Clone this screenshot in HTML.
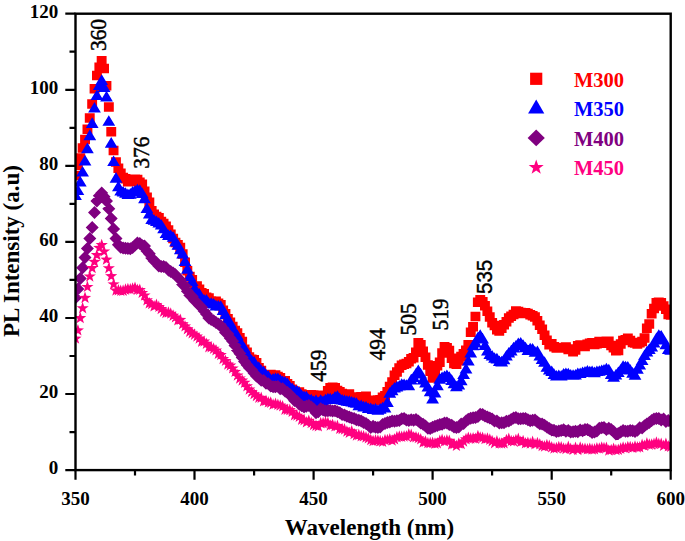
<!DOCTYPE html>
<html><head><meta charset="utf-8"><title>PL spectra</title><style>
html,body{margin:0;padding:0;background:#fff;width:685px;height:541px;overflow:hidden}
svg{display:block}
.tk{font-family:"Liberation Serif",serif;font-weight:bold;font-size:19px;fill:#000}
.ti{font-family:"Liberation Serif",serif;font-weight:bold;font-size:23px;fill:#000}
.pk{font-family:"Liberation Serif",serif;font-size:21.5px;fill:#000;stroke:#000;stroke-width:0.45px}
.pks{font-family:"Liberation Sans",sans-serif;font-size:20.5px;fill:#000;stroke:#000;stroke-width:0.35px}
.lg{font-family:"Liberation Serif",serif;font-weight:bold;font-size:20.5px}
</style></head><body>
<svg width="685" height="541" viewBox="0 0 685 541">
<defs><clipPath id="pc"><rect x="75.5" y="13.7" width="595.2" height="456.4"/></clipPath></defs>
<g clip-path="url(#pc)">
<path fill="#ff0000" d="M70.5 170.7h9.9v9.5h-9.9zM72.9 160.6h9.9v9.5h-9.9zM75.3 153.2h9.9v9.5h-9.9zM77.7 143.3h9.9v9.5h-9.9zM80.1 134.8h9.9v9.5h-9.9zM82.5 124.6h9.9v9.5h-9.9zM84.8 113.3h9.9v9.5h-9.9zM87.2 99.2h9.9v9.5h-9.9zM89.6 83.9h9.9v9.5h-9.9zM92 70.8h9.9v9.5h-9.9zM94.4 62.5h9.9v9.5h-9.9zM96.7 56.1h9.9v9.5h-9.9zM99.1 63.7h9.9v9.5h-9.9zM101.5 81h9.9v9.5h-9.9zM103.9 102.2h9.9v9.5h-9.9zM106.3 126.9h9.9v9.5h-9.9zM108.6 145.8h9.9v9.5h-9.9zM111 157.2h9.9v9.5h-9.9zM113.4 163.6h9.9v9.5h-9.9zM115.8 168.4h9.9v9.5h-9.9zM118.2 172.8h9.9v9.5h-9.9zM120.5 173.9h9.9v9.5h-9.9zM122.9 177h9.9v9.5h-9.9zM125.3 177h9.9v9.5h-9.9zM127.7 176.2h9.9v9.5h-9.9zM130.1 174.4h9.9v9.5h-9.9zM132.5 174.8h9.9v9.5h-9.9zM134.8 177.6h9.9v9.5h-9.9zM137.2 179.5h9.9v9.5h-9.9zM139.6 186.5h9.9v9.5h-9.9zM142 192.5h9.9v9.5h-9.9zM144.4 197.4h9.9v9.5h-9.9zM146.7 205.9h9.9v9.5h-9.9zM149.1 209.6h9.9v9.5h-9.9zM151.5 211.7h9.9v9.5h-9.9zM153.9 213h9.9v9.5h-9.9zM156.3 216.7h9.9v9.5h-9.9zM158.6 218.8h9.9v9.5h-9.9zM161 221.4h9.9v9.5h-9.9zM163.4 225.2h9.9v9.5h-9.9zM165.8 229.5h9.9v9.5h-9.9zM168.2 233.7h9.9v9.5h-9.9zM170.5 237.7h9.9v9.5h-9.9zM172.9 240.1h9.9v9.5h-9.9zM175.3 242.8h9.9v9.5h-9.9zM177.7 249.2h9.9v9.5h-9.9zM180.1 257.4h9.9v9.5h-9.9zM182.4 266h9.9v9.5h-9.9zM184.8 271.7h9.9v9.5h-9.9zM187.2 275.1h9.9v9.5h-9.9zM189.6 281.3h9.9v9.5h-9.9zM192 281.3h9.9v9.5h-9.9zM194.4 284.4h9.9v9.5h-9.9zM196.7 288.1h9.9v9.5h-9.9zM199.1 289h9.9v9.5h-9.9zM201.5 292.5h9.9v9.5h-9.9zM203.9 293.2h9.9v9.5h-9.9zM206.3 296.3h9.9v9.5h-9.9zM208.6 296.6h9.9v9.5h-9.9zM211 296.5h9.9v9.5h-9.9zM213.4 298.6h9.9v9.5h-9.9zM215.8 300h9.9v9.5h-9.9zM218.2 305.4h9.9v9.5h-9.9zM220.5 309.1h9.9v9.5h-9.9zM222.9 314.1h9.9v9.5h-9.9zM225.3 317.4h9.9v9.5h-9.9zM227.7 321.7h9.9v9.5h-9.9zM230.1 325.8h9.9v9.5h-9.9zM232.4 328.3h9.9v9.5h-9.9zM234.8 332.9h9.9v9.5h-9.9zM237.2 336.8h9.9v9.5h-9.9zM239.6 344.4h9.9v9.5h-9.9zM242 347.4h9.9v9.5h-9.9zM244.3 352.3h9.9v9.5h-9.9zM246.7 354.4h9.9v9.5h-9.9zM249.1 355h9.9v9.5h-9.9zM251.5 357.9h9.9v9.5h-9.9zM253.9 362.9h9.9v9.5h-9.9zM256.3 365.7h9.9v9.5h-9.9zM258.6 370.4h9.9v9.5h-9.9zM261 370.6h9.9v9.5h-9.9zM263.4 370.2h9.9v9.5h-9.9zM265.8 369.7h9.9v9.5h-9.9zM268.2 371.8h9.9v9.5h-9.9zM270.5 370.2h9.9v9.5h-9.9zM272.9 371.7h9.9v9.5h-9.9zM275.3 373h9.9v9.5h-9.9zM277.7 376.6h9.9v9.5h-9.9zM280.1 376.1h9.9v9.5h-9.9zM282.4 378.9h9.9v9.5h-9.9zM284.8 380.9h9.9v9.5h-9.9zM287.2 384.5h9.9v9.5h-9.9zM289.6 386.3h9.9v9.5h-9.9zM292 387.9h9.9v9.5h-9.9zM294.3 387.3h9.9v9.5h-9.9zM296.7 389.2h9.9v9.5h-9.9zM299.1 390h9.9v9.5h-9.9zM301.5 392h9.9v9.5h-9.9zM303.9 392.3h9.9v9.5h-9.9zM306.2 390h9.9v9.5h-9.9zM308.6 390.2h9.9v9.5h-9.9zM311 390.5h9.9v9.5h-9.9zM313.4 390.7h9.9v9.5h-9.9zM315.8 392.1h9.9v9.5h-9.9zM318.2 393.8h9.9v9.5h-9.9zM320.5 390.5h9.9v9.5h-9.9zM322.9 385.9h9.9v9.5h-9.9zM325.3 383h9.9v9.5h-9.9zM327.7 382.6h9.9v9.5h-9.9zM330.1 383h9.9v9.5h-9.9zM332.4 385.7h9.9v9.5h-9.9zM334.8 387.1h9.9v9.5h-9.9zM337.2 388.7h9.9v9.5h-9.9zM339.6 390.1h9.9v9.5h-9.9zM342 390.9h9.9v9.5h-9.9zM344.3 389.2h9.9v9.5h-9.9zM346.7 392.3h9.9v9.5h-9.9zM349.1 392.3h9.9v9.5h-9.9zM351.5 392.9h9.9v9.5h-9.9zM353.9 393h9.9v9.5h-9.9zM356.2 391.9h9.9v9.5h-9.9zM358.6 391.9h9.9v9.5h-9.9zM361 391.6h9.9v9.5h-9.9zM363.4 395.9h9.9v9.5h-9.9zM365.8 395.8h9.9v9.5h-9.9zM368.2 395.6h9.9v9.5h-9.9zM370.5 395.7h9.9v9.5h-9.9zM372.9 395.2h9.9v9.5h-9.9zM375.3 395.1h9.9v9.5h-9.9zM377.7 392.5h9.9v9.5h-9.9zM380.1 391.1h9.9v9.5h-9.9zM382.4 386.9h9.9v9.5h-9.9zM384.8 381.8h9.9v9.5h-9.9zM387.2 377.3h9.9v9.5h-9.9zM389.6 370.4h9.9v9.5h-9.9zM392 367.3h9.9v9.5h-9.9zM394.3 363.2h9.9v9.5h-9.9zM396.7 360.5h9.9v9.5h-9.9zM399.1 359.6h9.9v9.5h-9.9zM401.5 358.7h9.9v9.5h-9.9zM403.9 356.9h9.9v9.5h-9.9zM406.2 354.1h9.9v9.5h-9.9zM408.6 352.9h9.9v9.5h-9.9zM411 347.5h9.9v9.5h-9.9zM413.4 338.1h9.9v9.5h-9.9zM415.8 340.1h9.9v9.5h-9.9zM418.1 346.5h9.9v9.5h-9.9zM420.5 352.4h9.9v9.5h-9.9zM422.9 360.2h9.9v9.5h-9.9zM425.3 366.5h9.9v9.5h-9.9zM427.7 373.2h9.9v9.5h-9.9zM430.1 368.2h9.9v9.5h-9.9zM432.4 360.9h9.9v9.5h-9.9zM434.8 357.4h9.9v9.5h-9.9zM437.2 348.2h9.9v9.5h-9.9zM439.6 341.9h9.9v9.5h-9.9zM442 343.1h9.9v9.5h-9.9zM444.3 345.8h9.9v9.5h-9.9zM446.7 353.5h9.9v9.5h-9.9zM449.1 358.7h9.9v9.5h-9.9zM451.5 359.4h9.9v9.5h-9.9zM453.9 356.1h9.9v9.5h-9.9zM456.2 351.7h9.9v9.5h-9.9zM458.6 349.1h9.9v9.5h-9.9zM461 345.5h9.9v9.5h-9.9zM463.4 340.1h9.9v9.5h-9.9zM465.8 327.5h9.9v9.5h-9.9zM468.1 322h9.9v9.5h-9.9zM470.5 311.8h9.9v9.5h-9.9zM472.9 297.6h9.9v9.5h-9.9zM475.3 294.9h9.9v9.5h-9.9zM477.7 297h9.9v9.5h-9.9zM480 301.1h9.9v9.5h-9.9zM482.4 306.4h9.9v9.5h-9.9zM484.8 312.2h9.9v9.5h-9.9zM487.2 317.9h9.9v9.5h-9.9zM489.6 320.7h9.9v9.5h-9.9zM492 325h9.9v9.5h-9.9zM494.3 326.2h9.9v9.5h-9.9zM496.7 323.5h9.9v9.5h-9.9zM499.1 320h9.9v9.5h-9.9zM501.5 317h9.9v9.5h-9.9zM503.9 313.3h9.9v9.5h-9.9zM506.2 311.5h9.9v9.5h-9.9zM508.6 309.7h9.9v9.5h-9.9zM511 306.2h9.9v9.5h-9.9zM513.4 306.8h9.9v9.5h-9.9zM515.8 307.7h9.9v9.5h-9.9zM518.1 308.7h9.9v9.5h-9.9zM520.5 308.1h9.9v9.5h-9.9zM522.9 308.8h9.9v9.5h-9.9zM525.3 310.1h9.9v9.5h-9.9zM527.7 311.1h9.9v9.5h-9.9zM530 312.3h9.9v9.5h-9.9zM532.4 316h9.9v9.5h-9.9zM534.8 320.4h9.9v9.5h-9.9zM537.2 324.6h9.9v9.5h-9.9zM539.6 330.5h9.9v9.5h-9.9zM541.9 335.6h9.9v9.5h-9.9zM544.3 340h9.9v9.5h-9.9zM546.7 339h9.9v9.5h-9.9zM549.1 342h9.9v9.5h-9.9zM551.5 343.3h9.9v9.5h-9.9zM553.9 343.1h9.9v9.5h-9.9zM556.2 343.2h9.9v9.5h-9.9zM558.6 342.7h9.9v9.5h-9.9zM561 342.2h9.9v9.5h-9.9zM563.4 344.8h9.9v9.5h-9.9zM565.8 344.2h9.9v9.5h-9.9zM568.1 346.9h9.9v9.5h-9.9zM570.5 345.3h9.9v9.5h-9.9zM572.9 341h9.9v9.5h-9.9zM575.3 340.2h9.9v9.5h-9.9zM577.7 341.8h9.9v9.5h-9.9zM580 341.7h9.9v9.5h-9.9zM582.4 339.6h9.9v9.5h-9.9zM584.8 338.6h9.9v9.5h-9.9zM587.2 337.9h9.9v9.5h-9.9zM589.6 339.7h9.9v9.5h-9.9zM591.9 338.9h9.9v9.5h-9.9zM594.3 336.7h9.9v9.5h-9.9zM596.7 338.6h9.9v9.5h-9.9zM599.1 337.7h9.9v9.5h-9.9zM601.5 336.5h9.9v9.5h-9.9zM603.8 336.4h9.9v9.5h-9.9zM606.2 340.7h9.9v9.5h-9.9zM608.6 342.9h9.9v9.5h-9.9zM611 346.1h9.9v9.5h-9.9zM613.4 345.8h9.9v9.5h-9.9zM615.8 339.3h9.9v9.5h-9.9zM618.1 335.8h9.9v9.5h-9.9zM620.5 335.1h9.9v9.5h-9.9zM622.9 333.5h9.9v9.5h-9.9zM625.3 335.7h9.9v9.5h-9.9zM627.7 337.7h9.9v9.5h-9.9zM630 338.2h9.9v9.5h-9.9zM632.4 339.2h9.9v9.5h-9.9zM634.8 338h9.9v9.5h-9.9zM637.2 336.8h9.9v9.5h-9.9zM639.6 333.3h9.9v9.5h-9.9zM641.9 323.5h9.9v9.5h-9.9zM644.3 319.2h9.9v9.5h-9.9zM646.7 309.1h9.9v9.5h-9.9zM649.1 303.8h9.9v9.5h-9.9zM651.5 298h9.9v9.5h-9.9zM653.8 297.5h9.9v9.5h-9.9zM656.2 298.1h9.9v9.5h-9.9zM658.6 301.2h9.9v9.5h-9.9zM661 304.5h9.9v9.5h-9.9zM663.4 309.8h9.9v9.5h-9.9zM665.8 310.3h9.9v9.5h-9.9z"/>
<path fill="#0000ff" d="M75.5 189.5l6.4 10.6h-12.8zM77.9 184.5l6.4 10.6h-12.8zM80.3 176l6.4 10.6h-12.8zM82.6 166l6.4 10.6h-12.8zM85 154.8l6.4 10.6h-12.8zM87.4 142.6l6.4 10.6h-12.8zM89.8 129.6l6.4 10.6h-12.8zM92.2 117.3l6.4 10.6h-12.8zM94.5 101.9l6.4 10.6h-12.8zM96.9 89.4l6.4 10.6h-12.8zM99.3 79.5l6.4 10.6h-12.8zM101.7 74.3l6.4 10.6h-12.8zM104.1 81.5l6.4 10.6h-12.8zM106.5 90.8l6.4 10.6h-12.8zM108.8 115.2l6.4 10.6h-12.8zM111.2 137.1l6.4 10.6h-12.8zM113.6 155.4l6.4 10.6h-12.8zM116 172.1l6.4 10.6h-12.8zM118.4 180.7l6.4 10.6h-12.8zM120.7 185l6.4 10.6h-12.8zM123.1 186l6.4 10.6h-12.8zM125.5 187.2l6.4 10.6h-12.8zM127.9 188.5l6.4 10.6h-12.8zM130.3 188.1l6.4 10.6h-12.8zM132.6 185.9l6.4 10.6h-12.8zM135 185.1l6.4 10.6h-12.8zM137.4 183.8l6.4 10.6h-12.8zM139.8 184.3l6.4 10.6h-12.8zM142.2 187.5l6.4 10.6h-12.8zM144.5 192.6l6.4 10.6h-12.8zM146.9 202.5l6.4 10.6h-12.8zM149.3 208l6.4 10.6h-12.8zM151.7 213.4l6.4 10.6h-12.8zM154.1 214.2l6.4 10.6h-12.8zM156.4 215.5l6.4 10.6h-12.8zM158.8 216.9l6.4 10.6h-12.8zM161.2 219l6.4 10.6h-12.8zM163.6 222.7l6.4 10.6h-12.8zM166 227.4l6.4 10.6h-12.8zM168.4 229.3l6.4 10.6h-12.8zM170.7 229.4l6.4 10.6h-12.8zM173.1 231.2l6.4 10.6h-12.8zM175.5 236l6.4 10.6h-12.8zM177.9 239.1l6.4 10.6h-12.8zM180.3 243.7l6.4 10.6h-12.8zM182.6 247.8l6.4 10.6h-12.8zM185 255.3l6.4 10.6h-12.8zM187.4 263.2l6.4 10.6h-12.8zM189.8 270.5l6.4 10.6h-12.8zM192.2 275.5l6.4 10.6h-12.8zM194.5 282.6l6.4 10.6h-12.8zM196.9 285.9l6.4 10.6h-12.8zM199.3 287.9l6.4 10.6h-12.8zM201.7 292l6.4 10.6h-12.8zM204.1 294.1l6.4 10.6h-12.8zM206.4 294l6.4 10.6h-12.8zM208.8 297.3l6.4 10.6h-12.8zM211.2 297.2l6.4 10.6h-12.8zM213.6 298l6.4 10.6h-12.8zM216 299.8l6.4 10.6h-12.8zM218.3 300l6.4 10.6h-12.8zM220.7 300.2l6.4 10.6h-12.8zM223.1 304.5l6.4 10.6h-12.8zM225.5 308.7l6.4 10.6h-12.8zM227.9 313.1l6.4 10.6h-12.8zM230.3 317.1l6.4 10.6h-12.8zM232.6 322l6.4 10.6h-12.8zM235 327l6.4 10.6h-12.8zM237.4 329.6l6.4 10.6h-12.8zM239.8 335.1l6.4 10.6h-12.8zM242.2 339.2l6.4 10.6h-12.8zM244.5 342.5l6.4 10.6h-12.8zM246.9 347.5l6.4 10.6h-12.8zM249.3 352l6.4 10.6h-12.8zM251.7 354.6l6.4 10.6h-12.8zM254.1 355.9l6.4 10.6h-12.8zM256.4 360l6.4 10.6h-12.8zM258.8 361.3l6.4 10.6h-12.8zM261.2 364.6l6.4 10.6h-12.8zM263.6 365.7l6.4 10.6h-12.8zM266 368.8l6.4 10.6h-12.8zM268.3 370.2l6.4 10.6h-12.8zM270.7 373.5l6.4 10.6h-12.8zM273.1 373l6.4 10.6h-12.8zM275.5 372.4l6.4 10.6h-12.8zM277.9 372.5l6.4 10.6h-12.8zM280.2 373.9l6.4 10.6h-12.8zM282.6 375.6l6.4 10.6h-12.8zM285 376.1l6.4 10.6h-12.8zM287.4 377.6l6.4 10.6h-12.8zM289.8 381.1l6.4 10.6h-12.8zM292.2 382.4l6.4 10.6h-12.8zM294.5 384.8l6.4 10.6h-12.8zM296.9 385l6.4 10.6h-12.8zM299.3 386.5l6.4 10.6h-12.8zM301.7 389.6l6.4 10.6h-12.8zM304.1 390.6l6.4 10.6h-12.8zM306.4 390.7l6.4 10.6h-12.8zM308.8 393.4l6.4 10.6h-12.8zM311.2 393.7l6.4 10.6h-12.8zM313.6 395.4l6.4 10.6h-12.8zM316 394.5l6.4 10.6h-12.8zM318.3 396.7l6.4 10.6h-12.8zM320.7 394.3l6.4 10.6h-12.8zM323.1 395.4l6.4 10.6h-12.8zM325.5 393.7l6.4 10.6h-12.8zM327.9 392.8l6.4 10.6h-12.8zM330.2 392.8l6.4 10.6h-12.8zM332.6 393.4l6.4 10.6h-12.8zM335 391.1l6.4 10.6h-12.8zM337.4 390.2l6.4 10.6h-12.8zM339.8 392.8l6.4 10.6h-12.8zM342.1 393.9l6.4 10.6h-12.8zM344.5 394.4l6.4 10.6h-12.8zM346.9 395.1l6.4 10.6h-12.8zM349.3 395.3l6.4 10.6h-12.8zM351.7 396l6.4 10.6h-12.8zM354.1 396.6l6.4 10.6h-12.8zM356.4 397.2l6.4 10.6h-12.8zM358.8 399.7l6.4 10.6h-12.8zM361.2 399.6l6.4 10.6h-12.8zM363.6 400.8l6.4 10.6h-12.8zM366 400.9l6.4 10.6h-12.8zM368.3 402.4l6.4 10.6h-12.8zM370.7 402.5l6.4 10.6h-12.8zM373.1 403.4l6.4 10.6h-12.8zM375.5 402.9l6.4 10.6h-12.8zM377.9 404.2l6.4 10.6h-12.8zM380.2 403.1l6.4 10.6h-12.8zM382.6 401.7l6.4 10.6h-12.8zM385 402l6.4 10.6h-12.8zM387.4 396.3l6.4 10.6h-12.8zM389.8 387.1l6.4 10.6h-12.8zM392.1 384.6l6.4 10.6h-12.8zM394.5 381.9l6.4 10.6h-12.8zM396.9 380.8l6.4 10.6h-12.8zM399.3 379.9l6.4 10.6h-12.8zM401.7 378.3l6.4 10.6h-12.8zM404.1 378.4l6.4 10.6h-12.8zM406.4 379.2l6.4 10.6h-12.8zM408.8 379.6l6.4 10.6h-12.8zM411.2 373.8l6.4 10.6h-12.8zM413.6 371.4l6.4 10.6h-12.8zM416 367.8l6.4 10.6h-12.8zM418.3 364.6l6.4 10.6h-12.8zM420.7 368l6.4 10.6h-12.8zM423.1 373.8l6.4 10.6h-12.8zM425.5 377l6.4 10.6h-12.8zM427.9 381l6.4 10.6h-12.8zM430.2 385.6l6.4 10.6h-12.8zM432.6 392.8l6.4 10.6h-12.8zM435 386.8l6.4 10.6h-12.8zM437.4 379.6l6.4 10.6h-12.8zM439.8 373.1l6.4 10.6h-12.8zM442.1 371.5l6.4 10.6h-12.8zM444.5 370.5l6.4 10.6h-12.8zM446.9 369.4l6.4 10.6h-12.8zM449.3 371.3l6.4 10.6h-12.8zM451.7 374.3l6.4 10.6h-12.8zM454 377.7l6.4 10.6h-12.8zM456.4 380.7l6.4 10.6h-12.8zM458.8 378.8l6.4 10.6h-12.8zM461.2 374.6l6.4 10.6h-12.8zM463.6 368.5l6.4 10.6h-12.8zM466 362.9l6.4 10.6h-12.8zM468.3 354.8l6.4 10.6h-12.8zM470.7 346.8l6.4 10.6h-12.8zM473.1 339.7l6.4 10.6h-12.8zM475.5 336.8l6.4 10.6h-12.8zM477.9 331.7l6.4 10.6h-12.8zM480.2 329.3l6.4 10.6h-12.8zM482.6 332.8l6.4 10.6h-12.8zM485 339.3l6.4 10.6h-12.8zM487.4 344.9l6.4 10.6h-12.8zM489.8 348.4l6.4 10.6h-12.8zM492.1 349.9l6.4 10.6h-12.8zM494.5 352.2l6.4 10.6h-12.8zM496.9 352.8l6.4 10.6h-12.8zM499.3 355.5l6.4 10.6h-12.8zM501.7 355.8l6.4 10.6h-12.8zM504 353.7l6.4 10.6h-12.8zM506.4 349.9l6.4 10.6h-12.8zM508.8 347l6.4 10.6h-12.8zM511.2 344.8l6.4 10.6h-12.8zM513.6 341.8l6.4 10.6h-12.8zM515.9 340l6.4 10.6h-12.8zM518.3 337.4l6.4 10.6h-12.8zM520.7 337l6.4 10.6h-12.8zM523.1 339.2l6.4 10.6h-12.8zM525.5 341.7l6.4 10.6h-12.8zM527.9 344.4l6.4 10.6h-12.8zM530.2 342.7l6.4 10.6h-12.8zM532.6 343l6.4 10.6h-12.8zM535 346.1l6.4 10.6h-12.8zM537.4 345.6l6.4 10.6h-12.8zM539.8 350l6.4 10.6h-12.8zM542.1 353.5l6.4 10.6h-12.8zM544.5 356.2l6.4 10.6h-12.8zM546.9 361.2l6.4 10.6h-12.8zM549.3 363.9l6.4 10.6h-12.8zM551.7 365.5l6.4 10.6h-12.8zM554 368.3l6.4 10.6h-12.8zM556.4 370l6.4 10.6h-12.8zM558.8 369.5l6.4 10.6h-12.8zM561.2 369.9l6.4 10.6h-12.8zM563.6 368l6.4 10.6h-12.8zM565.9 367.5l6.4 10.6h-12.8zM568.3 367.8l6.4 10.6h-12.8zM570.7 369l6.4 10.6h-12.8zM573.1 369.2l6.4 10.6h-12.8zM575.5 369l6.4 10.6h-12.8zM577.8 367.5l6.4 10.6h-12.8zM580.2 367.5l6.4 10.6h-12.8zM582.6 366.5l6.4 10.6h-12.8zM585 366.1l6.4 10.6h-12.8zM587.4 365.1l6.4 10.6h-12.8zM589.8 365.7l6.4 10.6h-12.8zM592.1 365.4l6.4 10.6h-12.8zM594.5 366.6l6.4 10.6h-12.8zM596.9 365.5l6.4 10.6h-12.8zM599.3 365.2l6.4 10.6h-12.8zM601.7 364.5l6.4 10.6h-12.8zM604 363.9l6.4 10.6h-12.8zM606.4 362.8l6.4 10.6h-12.8zM608.8 363.7l6.4 10.6h-12.8zM611.2 368.4l6.4 10.6h-12.8zM613.6 371.2l6.4 10.6h-12.8zM615.9 369l6.4 10.6h-12.8zM618.3 366.4l6.4 10.6h-12.8zM620.7 363.7l6.4 10.6h-12.8zM623.1 360.2l6.4 10.6h-12.8zM625.5 360.7l6.4 10.6h-12.8zM627.8 361l6.4 10.6h-12.8zM630.2 363.9l6.4 10.6h-12.8zM632.6 367.1l6.4 10.6h-12.8zM635 369.1l6.4 10.6h-12.8zM637.4 363.1l6.4 10.6h-12.8zM639.7 358.9l6.4 10.6h-12.8zM642.1 354.5l6.4 10.6h-12.8zM644.5 349.4l6.4 10.6h-12.8zM646.9 345.9l6.4 10.6h-12.8zM649.3 343.3l6.4 10.6h-12.8zM651.7 340.8l6.4 10.6h-12.8zM654 337l6.4 10.6h-12.8zM656.4 332.6l6.4 10.6h-12.8zM658.8 329.2l6.4 10.6h-12.8zM661.2 329.9l6.4 10.6h-12.8zM663.6 334l6.4 10.6h-12.8zM665.9 338.7l6.4 10.6h-12.8zM668.3 343.5l6.4 10.6h-12.8zM670.7 344.2l6.4 10.6h-12.8z"/>
<path fill="#800080" d="M75.5 291.3l6.5 6.5l-6.5 6.5l-6.5 -6.5zM77.9 282.6l6.5 6.5l-6.5 6.5l-6.5 -6.5zM80.3 271.9l6.5 6.5l-6.5 6.5l-6.5 -6.5zM82.6 261.2l6.5 6.5l-6.5 6.5l-6.5 -6.5zM85 251l6.5 6.5l-6.5 6.5l-6.5 -6.5zM87.4 241.9l6.5 6.5l-6.5 6.5l-6.5 -6.5zM89.8 231.9l6.5 6.5l-6.5 6.5l-6.5 -6.5zM92.2 220.9l6.5 6.5l-6.5 6.5l-6.5 -6.5zM94.5 206.1l6.5 6.5l-6.5 6.5l-6.5 -6.5zM96.9 194.6l6.5 6.5l-6.5 6.5l-6.5 -6.5zM99.3 189.3l6.5 6.5l-6.5 6.5l-6.5 -6.5zM101.7 186.5l6.5 6.5l-6.5 6.5l-6.5 -6.5zM104.1 190.3l6.5 6.5l-6.5 6.5l-6.5 -6.5zM106.5 194.6l6.5 6.5l-6.5 6.5l-6.5 -6.5zM108.8 202.3l6.5 6.5l-6.5 6.5l-6.5 -6.5zM111.2 212.1l6.5 6.5l-6.5 6.5l-6.5 -6.5zM113.6 222.5l6.5 6.5l-6.5 6.5l-6.5 -6.5zM116 232.1l6.5 6.5l-6.5 6.5l-6.5 -6.5zM118.4 238.2l6.5 6.5l-6.5 6.5l-6.5 -6.5zM120.7 240.7l6.5 6.5l-6.5 6.5l-6.5 -6.5zM123.1 241.5l6.5 6.5l-6.5 6.5l-6.5 -6.5zM125.5 241.8l6.5 6.5l-6.5 6.5l-6.5 -6.5zM127.9 242l6.5 6.5l-6.5 6.5l-6.5 -6.5zM130.3 242.3l6.5 6.5l-6.5 6.5l-6.5 -6.5zM132.6 241.1l6.5 6.5l-6.5 6.5l-6.5 -6.5zM135 238.8l6.5 6.5l-6.5 6.5l-6.5 -6.5zM137.4 236.5l6.5 6.5l-6.5 6.5l-6.5 -6.5zM139.8 236.9l6.5 6.5l-6.5 6.5l-6.5 -6.5zM142.2 239l6.5 6.5l-6.5 6.5l-6.5 -6.5zM144.5 239.5l6.5 6.5l-6.5 6.5l-6.5 -6.5zM146.9 244.4l6.5 6.5l-6.5 6.5l-6.5 -6.5zM149.3 247.3l6.5 6.5l-6.5 6.5l-6.5 -6.5zM151.7 251.5l6.5 6.5l-6.5 6.5l-6.5 -6.5zM154.1 254.6l6.5 6.5l-6.5 6.5l-6.5 -6.5zM156.4 256.1l6.5 6.5l-6.5 6.5l-6.5 -6.5zM158.8 259.4l6.5 6.5l-6.5 6.5l-6.5 -6.5zM161.2 260l6.5 6.5l-6.5 6.5l-6.5 -6.5zM163.6 260l6.5 6.5l-6.5 6.5l-6.5 -6.5zM166 261.1l6.5 6.5l-6.5 6.5l-6.5 -6.5zM168.4 263.5l6.5 6.5l-6.5 6.5l-6.5 -6.5zM170.7 265l6.5 6.5l-6.5 6.5l-6.5 -6.5zM173.1 266.6l6.5 6.5l-6.5 6.5l-6.5 -6.5zM175.5 268.3l6.5 6.5l-6.5 6.5l-6.5 -6.5zM177.9 271.1l6.5 6.5l-6.5 6.5l-6.5 -6.5zM180.3 273.5l6.5 6.5l-6.5 6.5l-6.5 -6.5zM182.6 277.9l6.5 6.5l-6.5 6.5l-6.5 -6.5zM185 279.5l6.5 6.5l-6.5 6.5l-6.5 -6.5zM187.4 284.8l6.5 6.5l-6.5 6.5l-6.5 -6.5zM189.8 288.8l6.5 6.5l-6.5 6.5l-6.5 -6.5zM192.2 289.9l6.5 6.5l-6.5 6.5l-6.5 -6.5zM194.5 293.9l6.5 6.5l-6.5 6.5l-6.5 -6.5zM196.9 296.1l6.5 6.5l-6.5 6.5l-6.5 -6.5zM199.3 299.1l6.5 6.5l-6.5 6.5l-6.5 -6.5zM201.7 301l6.5 6.5l-6.5 6.5l-6.5 -6.5zM204.1 304.5l6.5 6.5l-6.5 6.5l-6.5 -6.5zM206.4 307.5l6.5 6.5l-6.5 6.5l-6.5 -6.5zM208.8 311.6l6.5 6.5l-6.5 6.5l-6.5 -6.5zM211.2 313l6.5 6.5l-6.5 6.5l-6.5 -6.5zM213.6 314.2l6.5 6.5l-6.5 6.5l-6.5 -6.5zM216 316.1l6.5 6.5l-6.5 6.5l-6.5 -6.5zM218.3 317.5l6.5 6.5l-6.5 6.5l-6.5 -6.5zM220.7 319.1l6.5 6.5l-6.5 6.5l-6.5 -6.5zM223.1 322.1l6.5 6.5l-6.5 6.5l-6.5 -6.5zM225.5 326l6.5 6.5l-6.5 6.5l-6.5 -6.5zM227.9 327.4l6.5 6.5l-6.5 6.5l-6.5 -6.5zM230.3 331.7l6.5 6.5l-6.5 6.5l-6.5 -6.5zM232.6 334.7l6.5 6.5l-6.5 6.5l-6.5 -6.5zM235 339.1l6.5 6.5l-6.5 6.5l-6.5 -6.5zM237.4 343.7l6.5 6.5l-6.5 6.5l-6.5 -6.5zM239.8 347.1l6.5 6.5l-6.5 6.5l-6.5 -6.5zM242.2 351l6.5 6.5l-6.5 6.5l-6.5 -6.5zM244.5 354.9l6.5 6.5l-6.5 6.5l-6.5 -6.5zM246.9 358.2l6.5 6.5l-6.5 6.5l-6.5 -6.5zM249.3 361.3l6.5 6.5l-6.5 6.5l-6.5 -6.5zM251.7 363.5l6.5 6.5l-6.5 6.5l-6.5 -6.5zM254.1 366.8l6.5 6.5l-6.5 6.5l-6.5 -6.5zM256.4 369.6l6.5 6.5l-6.5 6.5l-6.5 -6.5zM258.8 371.6l6.5 6.5l-6.5 6.5l-6.5 -6.5zM261.2 373.8l6.5 6.5l-6.5 6.5l-6.5 -6.5zM263.6 374.1l6.5 6.5l-6.5 6.5l-6.5 -6.5zM266 376.8l6.5 6.5l-6.5 6.5l-6.5 -6.5zM268.3 377.2l6.5 6.5l-6.5 6.5l-6.5 -6.5zM270.7 379.4l6.5 6.5l-6.5 6.5l-6.5 -6.5zM273.1 380.3l6.5 6.5l-6.5 6.5l-6.5 -6.5zM275.5 380.2l6.5 6.5l-6.5 6.5l-6.5 -6.5zM277.9 380.1l6.5 6.5l-6.5 6.5l-6.5 -6.5zM280.2 382.3l6.5 6.5l-6.5 6.5l-6.5 -6.5zM282.6 382.2l6.5 6.5l-6.5 6.5l-6.5 -6.5zM285 384.5l6.5 6.5l-6.5 6.5l-6.5 -6.5zM287.4 386.1l6.5 6.5l-6.5 6.5l-6.5 -6.5zM289.8 387.9l6.5 6.5l-6.5 6.5l-6.5 -6.5zM292.2 391.1l6.5 6.5l-6.5 6.5l-6.5 -6.5zM294.5 394l6.5 6.5l-6.5 6.5l-6.5 -6.5zM296.9 394.8l6.5 6.5l-6.5 6.5l-6.5 -6.5zM299.3 397.8l6.5 6.5l-6.5 6.5l-6.5 -6.5zM301.7 399.3l6.5 6.5l-6.5 6.5l-6.5 -6.5zM304.1 400.4l6.5 6.5l-6.5 6.5l-6.5 -6.5zM306.4 399.7l6.5 6.5l-6.5 6.5l-6.5 -6.5zM308.8 399.1l6.5 6.5l-6.5 6.5l-6.5 -6.5zM311.2 400.5l6.5 6.5l-6.5 6.5l-6.5 -6.5zM313.6 402.6l6.5 6.5l-6.5 6.5l-6.5 -6.5zM316 406.3l6.5 6.5l-6.5 6.5l-6.5 -6.5zM318.3 405.2l6.5 6.5l-6.5 6.5l-6.5 -6.5zM320.7 402.3l6.5 6.5l-6.5 6.5l-6.5 -6.5zM323.1 403.4l6.5 6.5l-6.5 6.5l-6.5 -6.5zM325.5 404.5l6.5 6.5l-6.5 6.5l-6.5 -6.5zM327.9 404.2l6.5 6.5l-6.5 6.5l-6.5 -6.5zM330.2 404.1l6.5 6.5l-6.5 6.5l-6.5 -6.5zM332.6 404.5l6.5 6.5l-6.5 6.5l-6.5 -6.5zM335 404.2l6.5 6.5l-6.5 6.5l-6.5 -6.5zM337.4 405.3l6.5 6.5l-6.5 6.5l-6.5 -6.5zM339.8 406.2l6.5 6.5l-6.5 6.5l-6.5 -6.5zM342.1 408l6.5 6.5l-6.5 6.5l-6.5 -6.5zM344.5 408.6l6.5 6.5l-6.5 6.5l-6.5 -6.5zM346.9 409.8l6.5 6.5l-6.5 6.5l-6.5 -6.5zM349.3 410.5l6.5 6.5l-6.5 6.5l-6.5 -6.5zM351.7 411.4l6.5 6.5l-6.5 6.5l-6.5 -6.5zM354.1 412.1l6.5 6.5l-6.5 6.5l-6.5 -6.5zM356.4 413.2l6.5 6.5l-6.5 6.5l-6.5 -6.5zM358.8 413.7l6.5 6.5l-6.5 6.5l-6.5 -6.5zM361.2 414.4l6.5 6.5l-6.5 6.5l-6.5 -6.5zM363.6 416.1l6.5 6.5l-6.5 6.5l-6.5 -6.5zM366 417.1l6.5 6.5l-6.5 6.5l-6.5 -6.5zM368.3 418.7l6.5 6.5l-6.5 6.5l-6.5 -6.5zM370.7 421l6.5 6.5l-6.5 6.5l-6.5 -6.5zM373.1 419.7l6.5 6.5l-6.5 6.5l-6.5 -6.5zM375.5 420.7l6.5 6.5l-6.5 6.5l-6.5 -6.5zM377.9 421.1l6.5 6.5l-6.5 6.5l-6.5 -6.5zM380.2 420.4l6.5 6.5l-6.5 6.5l-6.5 -6.5zM382.6 418l6.5 6.5l-6.5 6.5l-6.5 -6.5zM385 417l6.5 6.5l-6.5 6.5l-6.5 -6.5zM387.4 416.1l6.5 6.5l-6.5 6.5l-6.5 -6.5zM389.8 415.4l6.5 6.5l-6.5 6.5l-6.5 -6.5zM392.1 414.6l6.5 6.5l-6.5 6.5l-6.5 -6.5zM394.5 414.7l6.5 6.5l-6.5 6.5l-6.5 -6.5zM396.9 414.2l6.5 6.5l-6.5 6.5l-6.5 -6.5zM399.3 414.1l6.5 6.5l-6.5 6.5l-6.5 -6.5zM401.7 412.2l6.5 6.5l-6.5 6.5l-6.5 -6.5zM404.1 412.1l6.5 6.5l-6.5 6.5l-6.5 -6.5zM406.4 413.5l6.5 6.5l-6.5 6.5l-6.5 -6.5zM408.8 414l6.5 6.5l-6.5 6.5l-6.5 -6.5zM411.2 413.3l6.5 6.5l-6.5 6.5l-6.5 -6.5zM413.6 413.8l6.5 6.5l-6.5 6.5l-6.5 -6.5zM416 413.1l6.5 6.5l-6.5 6.5l-6.5 -6.5zM418.3 414.4l6.5 6.5l-6.5 6.5l-6.5 -6.5zM420.7 416.4l6.5 6.5l-6.5 6.5l-6.5 -6.5zM423.1 417.8l6.5 6.5l-6.5 6.5l-6.5 -6.5zM425.5 419.6l6.5 6.5l-6.5 6.5l-6.5 -6.5zM427.9 421.8l6.5 6.5l-6.5 6.5l-6.5 -6.5zM430.2 422.1l6.5 6.5l-6.5 6.5l-6.5 -6.5zM432.6 420.8l6.5 6.5l-6.5 6.5l-6.5 -6.5zM435 419.8l6.5 6.5l-6.5 6.5l-6.5 -6.5zM437.4 419.1l6.5 6.5l-6.5 6.5l-6.5 -6.5zM439.8 418l6.5 6.5l-6.5 6.5l-6.5 -6.5zM442.1 417.7l6.5 6.5l-6.5 6.5l-6.5 -6.5zM444.5 416.5l6.5 6.5l-6.5 6.5l-6.5 -6.5zM446.9 416.6l6.5 6.5l-6.5 6.5l-6.5 -6.5zM449.3 418.1l6.5 6.5l-6.5 6.5l-6.5 -6.5zM451.7 418.8l6.5 6.5l-6.5 6.5l-6.5 -6.5zM454 420.6l6.5 6.5l-6.5 6.5l-6.5 -6.5zM456.4 420.9l6.5 6.5l-6.5 6.5l-6.5 -6.5zM458.8 420.5l6.5 6.5l-6.5 6.5l-6.5 -6.5zM461.2 417.6l6.5 6.5l-6.5 6.5l-6.5 -6.5zM463.6 417.1l6.5 6.5l-6.5 6.5l-6.5 -6.5zM466 414.6l6.5 6.5l-6.5 6.5l-6.5 -6.5zM468.3 412.8l6.5 6.5l-6.5 6.5l-6.5 -6.5zM470.7 411.8l6.5 6.5l-6.5 6.5l-6.5 -6.5zM473.1 411.2l6.5 6.5l-6.5 6.5l-6.5 -6.5zM475.5 410.9l6.5 6.5l-6.5 6.5l-6.5 -6.5zM477.9 409.9l6.5 6.5l-6.5 6.5l-6.5 -6.5zM480.2 407.8l6.5 6.5l-6.5 6.5l-6.5 -6.5zM482.6 408.1l6.5 6.5l-6.5 6.5l-6.5 -6.5zM485 409.4l6.5 6.5l-6.5 6.5l-6.5 -6.5zM487.4 410.5l6.5 6.5l-6.5 6.5l-6.5 -6.5zM489.8 411.5l6.5 6.5l-6.5 6.5l-6.5 -6.5zM492.1 412.5l6.5 6.5l-6.5 6.5l-6.5 -6.5zM494.5 414.5l6.5 6.5l-6.5 6.5l-6.5 -6.5zM496.9 414.6l6.5 6.5l-6.5 6.5l-6.5 -6.5zM499.3 416.6l6.5 6.5l-6.5 6.5l-6.5 -6.5zM501.7 416.2l6.5 6.5l-6.5 6.5l-6.5 -6.5zM504 416.3l6.5 6.5l-6.5 6.5l-6.5 -6.5zM506.4 414.8l6.5 6.5l-6.5 6.5l-6.5 -6.5zM508.8 414.5l6.5 6.5l-6.5 6.5l-6.5 -6.5zM511.2 412.9l6.5 6.5l-6.5 6.5l-6.5 -6.5zM513.6 411.6l6.5 6.5l-6.5 6.5l-6.5 -6.5zM515.9 411.1l6.5 6.5l-6.5 6.5l-6.5 -6.5zM518.3 412.2l6.5 6.5l-6.5 6.5l-6.5 -6.5zM520.7 412.2l6.5 6.5l-6.5 6.5l-6.5 -6.5zM523.1 411.9l6.5 6.5l-6.5 6.5l-6.5 -6.5zM525.5 411.9l6.5 6.5l-6.5 6.5l-6.5 -6.5zM527.9 413.3l6.5 6.5l-6.5 6.5l-6.5 -6.5zM530.2 414.2l6.5 6.5l-6.5 6.5l-6.5 -6.5zM532.6 413.8l6.5 6.5l-6.5 6.5l-6.5 -6.5zM535 413.6l6.5 6.5l-6.5 6.5l-6.5 -6.5zM537.4 415.5l6.5 6.5l-6.5 6.5l-6.5 -6.5zM539.8 417.2l6.5 6.5l-6.5 6.5l-6.5 -6.5zM542.1 417.4l6.5 6.5l-6.5 6.5l-6.5 -6.5zM544.5 418.7l6.5 6.5l-6.5 6.5l-6.5 -6.5zM546.9 420.6l6.5 6.5l-6.5 6.5l-6.5 -6.5zM549.3 422l6.5 6.5l-6.5 6.5l-6.5 -6.5zM551.7 423.6l6.5 6.5l-6.5 6.5l-6.5 -6.5zM554 423.7l6.5 6.5l-6.5 6.5l-6.5 -6.5zM556.4 424.9l6.5 6.5l-6.5 6.5l-6.5 -6.5zM558.8 424.6l6.5 6.5l-6.5 6.5l-6.5 -6.5zM561.2 423.9l6.5 6.5l-6.5 6.5l-6.5 -6.5zM563.6 423.2l6.5 6.5l-6.5 6.5l-6.5 -6.5zM565.9 424.8l6.5 6.5l-6.5 6.5l-6.5 -6.5zM568.3 424l6.5 6.5l-6.5 6.5l-6.5 -6.5zM570.7 425.6l6.5 6.5l-6.5 6.5l-6.5 -6.5zM573.1 425.2l6.5 6.5l-6.5 6.5l-6.5 -6.5zM575.5 424.8l6.5 6.5l-6.5 6.5l-6.5 -6.5zM577.8 425.2l6.5 6.5l-6.5 6.5l-6.5 -6.5zM580.2 423.5l6.5 6.5l-6.5 6.5l-6.5 -6.5zM582.6 424.3l6.5 6.5l-6.5 6.5l-6.5 -6.5zM585 422.9l6.5 6.5l-6.5 6.5l-6.5 -6.5zM587.4 422.9l6.5 6.5l-6.5 6.5l-6.5 -6.5zM589.8 424.3l6.5 6.5l-6.5 6.5l-6.5 -6.5zM592.1 426l6.5 6.5l-6.5 6.5l-6.5 -6.5zM594.5 425.5l6.5 6.5l-6.5 6.5l-6.5 -6.5zM596.9 424.5l6.5 6.5l-6.5 6.5l-6.5 -6.5zM599.3 421.8l6.5 6.5l-6.5 6.5l-6.5 -6.5zM601.7 421.2l6.5 6.5l-6.5 6.5l-6.5 -6.5zM604 421l6.5 6.5l-6.5 6.5l-6.5 -6.5zM606.4 423l6.5 6.5l-6.5 6.5l-6.5 -6.5zM608.8 421.8l6.5 6.5l-6.5 6.5l-6.5 -6.5zM611.2 423.1l6.5 6.5l-6.5 6.5l-6.5 -6.5zM613.6 425l6.5 6.5l-6.5 6.5l-6.5 -6.5zM615.9 427.5l6.5 6.5l-6.5 6.5l-6.5 -6.5zM618.3 426.9l6.5 6.5l-6.5 6.5l-6.5 -6.5zM620.7 425.4l6.5 6.5l-6.5 6.5l-6.5 -6.5zM623.1 424l6.5 6.5l-6.5 6.5l-6.5 -6.5zM625.5 424.7l6.5 6.5l-6.5 6.5l-6.5 -6.5zM627.8 424.8l6.5 6.5l-6.5 6.5l-6.5 -6.5zM630.2 424l6.5 6.5l-6.5 6.5l-6.5 -6.5zM632.6 424.2l6.5 6.5l-6.5 6.5l-6.5 -6.5zM635 424.9l6.5 6.5l-6.5 6.5l-6.5 -6.5zM637.4 423.7l6.5 6.5l-6.5 6.5l-6.5 -6.5zM639.7 421.3l6.5 6.5l-6.5 6.5l-6.5 -6.5zM642.1 421.5l6.5 6.5l-6.5 6.5l-6.5 -6.5zM644.5 419.3l6.5 6.5l-6.5 6.5l-6.5 -6.5zM646.9 417.6l6.5 6.5l-6.5 6.5l-6.5 -6.5zM649.3 415.9l6.5 6.5l-6.5 6.5l-6.5 -6.5zM651.7 414.1l6.5 6.5l-6.5 6.5l-6.5 -6.5zM654 412.5l6.5 6.5l-6.5 6.5l-6.5 -6.5zM656.4 412.1l6.5 6.5l-6.5 6.5l-6.5 -6.5zM658.8 412l6.5 6.5l-6.5 6.5l-6.5 -6.5zM661.2 413.6l6.5 6.5l-6.5 6.5l-6.5 -6.5zM663.6 412.5l6.5 6.5l-6.5 6.5l-6.5 -6.5zM665.9 415.1l6.5 6.5l-6.5 6.5l-6.5 -6.5zM668.3 414.1l6.5 6.5l-6.5 6.5l-6.5 -6.5zM670.7 414.7l6.5 6.5l-6.5 6.5l-6.5 -6.5z"/>
<path fill="#ff0080" d="M75.5 332.3L77 336.6L81.6 336.7L77.9 339.4L79.3 343.8L75.5 341.2L71.7 343.8L73.1 339.4L69.4 336.7L74 336.6zM77.9 324L79.4 328.3L84 328.4L80.3 331.2L81.6 335.6L77.9 333L74.1 335.6L75.4 331.2L71.8 328.4L76.4 328.3zM80.3 311.7L81.8 316L86.3 316.1L82.7 318.9L84 323.3L80.3 320.7L76.5 323.3L77.8 318.9L74.2 316.1L78.8 316zM82.6 301.8L84.1 306.2L88.7 306.3L85.1 309L86.4 313.4L82.6 310.8L78.9 313.4L80.2 309L76.6 306.3L81.1 306.2zM85 291.5L86.5 295.8L91.1 295.9L87.5 298.7L88.8 303.1L85 300.5L81.3 303.1L82.6 298.7L78.9 295.9L83.5 295.8zM87.4 280.6L88.9 284.9L93.5 285L89.8 287.7L91.2 292.1L87.4 289.5L83.6 292.1L85 287.7L81.3 285L85.9 284.9zM89.8 270.2L91.3 274.5L95.9 274.6L92.2 277.3L93.5 281.7L89.8 279.1L86 281.7L87.4 277.3L83.7 274.6L88.3 274.5zM92.2 261.7L93.7 266L98.3 266.1L94.6 268.9L95.9 273.3L92.2 270.7L88.4 273.3L89.7 268.9L86.1 266.1L90.7 266zM94.5 255.5L96.1 259.8L100.6 259.9L97 262.7L98.3 267.1L94.5 264.4L90.8 267.1L92.1 262.7L88.5 259.9L93 259.8zM96.9 248.7L98.4 253.1L103 253.1L99.4 255.9L100.7 260.3L96.9 257.7L93.2 260.3L94.5 255.9L90.8 253.1L95.4 253.1zM99.3 241.5L100.8 245.8L105.4 245.9L101.7 248.7L103.1 253.1L99.3 250.5L95.5 253.1L96.9 248.7L93.2 245.9L97.8 245.8zM101.7 238.7L103.2 243L107.8 243.1L104.1 245.9L105.5 250.3L101.7 247.6L97.9 250.3L99.3 245.9L95.6 243.1L100.2 243zM104.1 245L105.6 249.4L110.2 249.5L106.5 252.2L107.8 256.6L104.1 254L100.3 256.6L101.6 252.2L98 249.5L102.6 249.4zM106.5 253.2L108 257.6L112.5 257.7L108.9 260.4L110.2 264.8L106.5 262.2L102.7 264.8L104 260.4L100.4 257.7L104.9 257.6zM108.8 261.9L110.3 266.2L114.9 266.3L111.3 269.1L112.6 273.5L108.8 270.8L105.1 273.5L106.4 269.1L102.7 266.3L107.3 266.2zM111.2 269.8L112.7 274.1L117.3 274.2L113.6 276.9L115 281.3L111.2 278.7L107.5 281.3L108.8 276.9L105.1 274.2L109.7 274.1zM113.6 277.9L115.1 282.3L119.7 282.4L116 285.1L117.4 289.5L113.6 286.9L109.8 289.5L111.2 285.1L107.5 282.4L112.1 282.3zM116 284.2L117.5 288.5L122.1 288.6L118.4 291.4L119.7 295.8L116 293.1L112.2 295.8L113.5 291.4L109.9 288.6L114.5 288.5zM118.4 284L119.9 288.3L124.4 288.4L120.8 291.2L122.1 295.5L118.4 292.9L114.6 295.5L115.9 291.2L112.3 288.4L116.8 288.3zM120.7 284.5L122.2 288.8L126.8 288.9L123.2 291.6L124.5 296L120.7 293.4L117 296L118.3 291.6L114.6 288.9L119.2 288.8zM123.1 284.3L124.6 288.7L129.2 288.8L125.6 291.5L126.9 295.9L123.1 293.3L119.4 295.9L120.7 291.5L117 288.8L121.6 288.7zM125.5 283.3L127 287.6L131.6 287.7L127.9 290.5L129.3 294.9L125.5 292.3L121.7 294.9L123.1 290.5L119.4 287.7L124 287.6zM127.9 282.8L129.4 287.1L134 287.2L130.3 290L131.6 294.3L127.9 291.7L124.1 294.3L125.4 290L121.8 287.2L126.4 287.1zM130.3 283L131.8 287.3L136.3 287.4L132.7 290.2L134 294.6L130.3 291.9L126.5 294.6L127.8 290.2L124.2 287.4L128.8 287.3zM132.6 282.2L134.1 286.5L138.7 286.6L135.1 289.4L136.4 293.8L132.6 291.1L128.9 293.8L130.2 289.4L126.6 286.6L131.1 286.5zM135 281.4L136.5 285.8L141.1 285.9L137.5 288.6L138.8 293L135 290.4L131.3 293L132.6 288.6L128.9 285.9L133.5 285.8zM137.4 283.6L138.9 287.9L143.5 288L139.8 290.8L141.2 295.1L137.4 292.5L133.6 295.1L135 290.8L131.3 288L135.9 287.9zM139.8 283.6L141.3 287.9L145.9 288L142.2 290.7L143.5 295.1L139.8 292.5L136 295.1L137.3 290.7L133.7 288L138.3 287.9zM142.2 286.6L143.7 290.9L148.2 291L144.6 293.8L145.9 298.1L142.2 295.5L138.4 298.1L139.7 293.8L136.1 291L140.7 290.9zM144.5 289.1L146 293.4L150.6 293.5L147 296.3L148.3 300.7L144.5 298L140.8 300.7L142.1 296.3L138.5 293.5L143 293.4zM146.9 294L148.4 298.3L153 298.4L149.4 301.2L150.7 305.6L146.9 302.9L143.2 305.6L144.5 301.2L140.8 298.4L145.4 298.3zM149.3 296.9L150.8 301.3L155.4 301.4L151.7 304.1L153.1 308.5L149.3 305.9L145.5 308.5L146.9 304.1L143.2 301.4L147.8 301.3zM151.7 297.8L153.2 302.1L157.8 302.2L154.1 304.9L155.4 309.3L151.7 306.7L147.9 309.3L149.3 304.9L145.6 302.2L150.2 302.1zM154.1 300L155.6 304.3L160.2 304.4L156.5 307.2L157.8 311.6L154.1 309L150.3 311.6L151.6 307.2L148 304.4L152.6 304.3zM156.4 298.6L158 302.9L162.5 303L158.9 305.8L160.2 310.2L156.4 307.6L152.7 310.2L154 305.8L150.4 303L154.9 302.9zM158.8 300.6L160.3 304.9L164.9 305L161.3 307.7L162.6 312.1L158.8 309.5L155.1 312.1L156.4 307.7L152.7 305L157.3 304.9zM161.2 302.6L162.7 306.9L167.3 307L163.6 309.8L165 314.2L161.2 311.5L157.4 314.2L158.8 309.8L155.1 307L159.7 306.9zM163.6 305.3L165.1 309.6L169.7 309.7L166 312.5L167.4 316.9L163.6 314.3L159.8 316.9L161.2 312.5L157.5 309.7L162.1 309.6zM166 306.6L167.5 310.9L172.1 311L168.4 313.8L169.7 318.2L166 315.6L162.2 318.2L163.5 313.8L159.9 311L164.5 310.9zM168.4 306.2L169.9 310.6L174.4 310.7L170.8 313.4L172.1 317.8L168.4 315.2L164.6 317.8L165.9 313.4L162.3 310.7L166.8 310.6zM170.7 307.2L172.2 311.6L176.8 311.7L173.2 314.4L174.5 318.8L170.7 316.2L167 318.8L168.3 314.4L164.6 311.7L169.2 311.6zM173.1 309.3L174.6 313.6L179.2 313.7L175.5 316.5L176.9 320.9L173.1 318.3L169.4 320.9L170.7 316.5L167 313.7L171.6 313.6zM175.5 311L177 315.4L181.6 315.5L177.9 318.2L179.3 322.6L175.5 320L171.7 322.6L173.1 318.2L169.4 315.5L174 315.4zM177.9 314L179.4 318.3L184 318.4L180.3 321.2L181.6 325.6L177.9 323L174.1 325.6L175.4 321.2L171.8 318.4L176.4 318.3zM180.3 313.5L181.8 317.8L186.3 317.9L182.7 320.7L184 325.1L180.3 322.5L176.5 325.1L177.8 320.7L174.2 317.9L178.8 317.8zM182.6 317.8L184.1 322.1L188.7 322.2L185.1 324.9L186.4 329.3L182.6 326.7L178.9 329.3L180.2 324.9L176.5 322.2L181.1 322.1zM185 319.9L186.5 324.3L191.1 324.4L187.5 327.1L188.8 331.5L185 328.9L181.3 331.5L182.6 327.1L178.9 324.4L183.5 324.3zM187.4 322.8L188.9 327.1L193.5 327.2L189.8 330L191.2 334.4L187.4 331.8L183.6 334.4L185 330L181.3 327.2L185.9 327.1zM189.8 325.3L191.3 329.6L195.9 329.7L192.2 332.5L193.5 336.9L189.8 334.2L186 336.9L187.3 332.5L183.7 329.7L188.3 329.6zM192.2 327L193.7 331.3L198.2 331.4L194.6 334.2L195.9 338.6L192.2 335.9L188.4 338.6L189.7 334.2L186.1 331.4L190.7 331.3zM194.5 328.3L196 332.6L200.6 332.7L197 335.5L198.3 339.9L194.5 337.2L190.8 339.9L192.1 335.5L188.5 332.7L193 332.6zM196.9 330.2L198.4 334.5L203 334.6L199.4 337.4L200.7 341.7L196.9 339.1L193.2 341.7L194.5 337.4L190.8 334.6L195.4 334.5zM199.3 332.2L200.8 336.5L205.4 336.6L201.7 339.3L203.1 343.7L199.3 341.1L195.5 343.7L196.9 339.3L193.2 336.6L197.8 336.5zM201.7 335.3L203.2 339.7L207.8 339.8L204.1 342.5L205.4 346.9L201.7 344.3L197.9 346.9L199.2 342.5L195.6 339.8L200.2 339.7zM204.1 335.2L205.6 339.5L210.1 339.6L206.5 342.4L207.8 346.8L204.1 344.1L200.3 346.8L201.6 342.4L198 339.6L202.6 339.5zM206.4 337.4L207.9 341.7L212.5 341.8L208.9 344.6L210.2 348.9L206.4 346.3L202.7 348.9L204 344.6L200.4 341.8L204.9 341.7zM208.8 340.8L210.3 345.1L214.9 345.2L211.3 348L212.6 352.4L208.8 349.8L205.1 352.4L206.4 348L202.7 345.2L207.3 345.1zM211.2 341.1L212.7 345.4L217.3 345.5L213.6 348.3L215 352.6L211.2 350L207.4 352.6L208.8 348.3L205.1 345.5L209.7 345.4zM213.6 342.3L215.1 346.7L219.7 346.8L216 349.5L217.3 353.9L213.6 351.3L209.8 353.9L211.2 349.5L207.5 346.8L212.1 346.7zM216 344.1L217.5 348.4L222.1 348.5L218.4 351.3L219.7 355.6L216 353L212.2 355.6L213.5 351.3L209.9 348.5L214.5 348.4zM218.3 347.5L219.9 351.8L224.4 351.9L220.8 354.7L222.1 359.1L218.3 356.4L214.6 359.1L215.9 354.7L212.3 351.9L216.8 351.8zM220.7 348.7L222.2 353L226.8 353.1L223.2 355.9L224.5 360.3L220.7 357.6L217 360.3L218.3 355.9L214.6 353.1L219.2 353zM223.1 352.6L224.6 356.9L229.2 357L225.5 359.8L226.9 364.2L223.1 361.6L219.3 364.2L220.7 359.8L217 357L221.6 356.9zM225.5 354.5L227 358.9L231.6 359L227.9 361.7L229.3 366.1L225.5 363.5L221.7 366.1L223.1 361.7L219.4 359L224 358.9zM227.9 358.1L229.4 362.4L234 362.5L230.3 365.3L231.6 369.7L227.9 367L224.1 369.7L225.4 365.3L221.8 362.5L226.4 362.4zM230.3 359.2L231.8 363.5L236.3 363.6L232.7 366.4L234 370.7L230.3 368.1L226.5 370.7L227.8 366.4L224.2 363.6L228.7 363.5zM232.6 362.1L234.1 366.4L238.7 366.5L235.1 369.2L236.4 373.6L232.6 371L228.9 373.6L230.2 369.2L226.5 366.5L231.1 366.4zM235 365.5L236.5 369.8L241.1 369.9L237.4 372.7L238.8 377.1L235 374.5L231.3 377.1L232.6 372.7L228.9 369.9L233.5 369.8zM237.4 369.1L238.9 373.4L243.5 373.5L239.8 376.3L241.2 380.7L237.4 378.1L233.6 380.7L235 376.3L231.3 373.5L235.9 373.4zM239.8 372.1L241.3 376.4L245.9 376.5L242.2 379.3L243.5 383.7L239.8 381.1L236 383.7L237.3 379.3L233.7 376.5L238.3 376.4zM242.2 374.1L243.7 378.4L248.2 378.5L244.6 381.3L245.9 385.7L242.2 383L238.4 385.7L239.7 381.3L236.1 378.5L240.7 378.4zM244.5 376.3L246 380.7L250.6 380.8L247 383.5L248.3 387.9L244.5 385.3L240.8 387.9L242.1 383.5L238.5 380.8L243 380.7zM246.9 379.8L248.4 384.2L253 384.3L249.4 387L250.7 391.4L246.9 388.8L243.2 391.4L244.5 387L240.8 384.3L245.4 384.2zM249.3 383.1L250.8 387.4L255.4 387.5L251.7 390.3L253.1 394.7L249.3 392L245.5 394.7L246.9 390.3L243.2 387.5L247.8 387.4zM251.7 385.6L253.2 390L257.8 390.1L254.1 392.8L255.4 397.2L251.7 394.6L247.9 397.2L249.2 392.8L245.6 390.1L250.2 390zM254.1 387.7L255.6 392.1L260.1 392.2L256.5 394.9L257.8 399.3L254.1 396.7L250.3 399.3L251.6 394.9L248 392.2L252.6 392.1zM256.4 389.6L257.9 394L262.5 394.1L258.9 396.8L260.2 401.2L256.4 398.6L252.7 401.2L254 396.8L250.4 394.1L254.9 394zM258.8 391.4L260.3 395.7L264.9 395.8L261.3 398.6L262.6 403L258.8 400.3L255.1 403L256.4 398.6L252.7 395.8L257.3 395.7zM261.2 391.5L262.7 395.9L267.3 395.9L263.6 398.7L265 403.1L261.2 400.5L257.4 403.1L258.8 398.7L255.1 395.9L259.7 395.9zM263.6 395L265.1 399.3L269.7 399.4L266 402.2L267.3 406.5L263.6 403.9L259.8 406.5L261.1 402.2L257.5 399.4L262.1 399.3zM266 394.4L267.5 398.7L272.1 398.8L268.4 401.6L269.7 406L266 403.4L262.2 406L263.5 401.6L259.9 398.8L264.5 398.7zM268.3 396L269.8 400.4L274.4 400.5L270.8 403.2L272.1 407.6L268.3 405L264.6 407.6L265.9 403.2L262.3 400.5L266.8 400.4zM270.7 396.3L272.2 400.6L276.8 400.7L273.2 403.5L274.5 407.9L270.7 405.3L267 407.9L268.3 403.5L264.6 400.7L269.2 400.6zM273.1 398.2L274.6 402.6L279.2 402.7L275.5 405.4L276.9 409.8L273.1 407.2L269.3 409.8L270.7 405.4L267 402.7L271.6 402.6zM275.5 397.5L277 401.8L281.6 401.9L277.9 404.7L279.2 409L275.5 406.4L271.7 409L273.1 404.7L269.4 401.9L274 401.8zM277.9 398.4L279.4 402.7L284 402.8L280.3 405.6L281.6 409.9L277.9 407.3L274.1 409.9L275.4 405.6L271.8 402.8L276.4 402.7zM280.2 399.2L281.8 403.5L286.3 403.6L282.7 406.4L284 410.7L280.2 408.1L276.5 410.7L277.8 406.4L274.2 403.6L278.7 403.5zM282.6 400L284.1 404.4L288.7 404.5L285.1 407.2L286.4 411.6L282.6 409L278.9 411.6L280.2 407.2L276.5 404.5L281.1 404.4zM285 403.4L286.5 407.7L291.1 407.8L287.4 410.6L288.8 414.9L285 412.3L281.2 414.9L282.6 410.6L278.9 407.8L283.5 407.7zM287.4 403.4L288.9 407.7L293.5 407.8L289.8 410.6L291.2 415L287.4 412.4L283.6 415L285 410.6L281.3 407.8L285.9 407.7zM289.8 403.6L291.3 407.9L295.9 408L292.2 410.8L293.5 415.2L289.8 412.6L286 415.2L287.3 410.8L283.7 408L288.3 407.9zM292.2 405.4L293.7 409.7L298.2 409.8L294.6 412.6L295.9 417L292.2 414.4L288.4 417L289.7 412.6L286.1 409.8L290.6 409.7zM294.5 408.9L296 413.2L300.6 413.3L297 416.1L298.3 420.4L294.5 417.8L290.8 420.4L292.1 416.1L288.4 413.3L293 413.2zM296.9 409.3L298.4 413.6L303 413.7L299.3 416.5L300.7 420.8L296.9 418.2L293.2 420.8L294.5 416.5L290.8 413.7L295.4 413.6zM299.3 410.3L300.8 414.7L305.4 414.8L301.7 417.5L303.1 421.9L299.3 419.3L295.5 421.9L296.9 417.5L293.2 414.8L297.8 414.7zM301.7 413.3L303.2 417.6L307.8 417.7L304.1 420.5L305.4 424.9L301.7 422.3L297.9 424.9L299.2 420.5L295.6 417.7L300.2 417.6zM304.1 413.8L305.6 418.1L310.1 418.2L306.5 421L307.8 425.4L304.1 422.8L300.3 425.4L301.6 421L298 418.2L302.6 418.1zM306.4 415.9L307.9 420.2L312.5 420.3L308.9 423.1L310.2 427.5L306.4 424.9L302.7 427.5L304 423.1L300.4 420.3L304.9 420.2zM308.8 414.4L310.3 418.8L314.9 418.8L311.3 421.6L312.6 426L308.8 423.4L305.1 426L306.4 421.6L302.7 418.8L307.3 418.8zM311.2 416.6L312.7 420.9L317.3 421L313.6 423.8L315 428.2L311.2 425.6L307.4 428.2L308.8 423.8L305.1 421L309.7 420.9zM313.6 418.6L315.1 422.9L319.7 423L316 425.8L317.3 430.2L313.6 427.6L309.8 430.2L311.1 425.8L307.5 423L312.1 422.9zM316 419.4L317.5 423.8L322 423.8L318.4 426.6L319.7 431L316 428.4L312.2 431L313.5 426.6L309.9 423.8L314.5 423.8zM318.3 420L319.8 424.3L324.4 424.4L320.8 427.2L322.1 431.6L318.3 428.9L314.6 431.6L315.9 427.2L312.3 424.4L316.8 424.3zM320.7 416.8L322.2 421.1L326.8 421.2L323.2 424L324.5 428.4L320.7 425.7L317 428.4L318.3 424L314.6 421.2L319.2 421.1zM323.1 416.8L324.6 421.1L329.2 421.2L325.5 424L326.9 428.4L323.1 425.7L319.3 428.4L320.7 424L317 421.2L321.6 421.1zM325.5 416L327 420.4L331.6 420.5L327.9 423.2L329.2 427.6L325.5 425L321.7 427.6L323 423.2L319.4 420.5L324 420.4zM327.9 416.5L329.4 420.9L334 421L330.3 423.7L331.6 428.1L327.9 425.5L324.1 428.1L325.4 423.7L321.8 421L326.4 420.9zM330.2 419.2L331.8 423.5L336.3 423.6L332.7 426.4L334 430.8L330.2 428.1L326.5 430.8L327.8 426.4L324.2 423.6L328.7 423.5zM332.6 418.5L334.1 422.8L338.7 422.9L335.1 425.7L336.4 430.1L332.6 427.4L328.9 430.1L330.2 425.7L326.5 422.9L331.1 422.8zM335 420L336.5 424.3L341.1 424.4L337.4 427.2L338.8 431.6L335 429L331.2 431.6L332.6 427.2L328.9 424.4L333.5 424.3zM337.4 419.6L338.9 423.9L343.5 424L339.8 426.8L341.1 431.2L337.4 428.5L333.6 431.2L335 426.8L331.3 424L335.9 423.9zM339.8 422.5L341.3 426.9L345.9 426.9L342.2 429.7L343.5 434.1L339.8 431.5L336 434.1L337.3 429.7L333.7 426.9L338.3 426.9zM342.1 422.7L343.7 427.1L348.2 427.2L344.6 429.9L345.9 434.3L342.1 431.7L338.4 434.3L339.7 429.9L336.1 427.2L340.6 427.1zM344.5 423.1L346 427.4L350.6 427.5L347 430.3L348.3 434.7L344.5 432L340.8 434.7L342.1 430.3L338.4 427.5L343 427.4zM346.9 425.2L348.4 429.6L353 429.7L349.3 432.4L350.7 436.8L346.9 434.2L343.1 436.8L344.5 432.4L340.8 429.7L345.4 429.6zM349.3 426.4L350.8 430.7L355.4 430.8L351.7 433.6L353.1 437.9L349.3 435.3L345.5 437.9L346.9 433.6L343.2 430.8L347.8 430.7zM351.7 425L353.2 429.3L357.8 429.4L354.1 432.2L355.4 436.5L351.7 433.9L347.9 436.5L349.2 432.2L345.6 429.4L350.2 429.3zM354.1 427.8L355.6 432.1L360.1 432.2L356.5 435L357.8 439.3L354.1 436.7L350.3 439.3L351.6 435L348 432.2L352.5 432.1zM356.4 429.2L357.9 433.5L362.5 433.6L358.9 436.3L360.2 440.7L356.4 438.1L352.7 440.7L354 436.3L350.3 433.6L354.9 433.5zM358.8 428.6L360.3 433L364.9 433L361.2 435.8L362.6 440.2L358.8 437.6L355.1 440.2L356.4 435.8L352.7 433L357.3 433zM361.2 429.8L362.7 434.1L367.3 434.2L363.6 437L365 441.4L361.2 438.8L357.4 441.4L358.8 437L355.1 434.2L359.7 434.1zM363.6 430.1L365.1 434.4L369.7 434.5L366 437.3L367.3 441.6L363.6 439L359.8 441.6L361.1 437.3L357.5 434.5L362.1 434.4zM366 431.1L367.5 435.4L372 435.5L368.4 438.3L369.7 442.7L366 440.1L362.2 442.7L363.5 438.3L359.9 435.5L364.5 435.4zM368.3 432L369.8 436.3L374.4 436.4L370.8 439.2L372.1 443.6L368.3 440.9L364.6 443.6L365.9 439.2L362.3 436.4L366.8 436.3zM370.7 433.7L372.2 438.1L376.8 438.2L373.2 440.9L374.5 445.3L370.7 442.7L367 445.3L368.3 440.9L364.6 438.2L369.2 438.1zM373.1 434.7L374.6 439L379.2 439.1L375.5 441.9L376.9 446.3L373.1 443.7L369.3 446.3L370.7 441.9L367 439.1L371.6 439zM375.5 434.1L377 438.5L381.6 438.6L377.9 441.3L379.2 445.7L375.5 443.1L371.7 445.7L373 441.3L369.4 438.6L374 438.5zM377.9 434.2L379.4 438.5L383.9 438.6L380.3 441.4L381.6 445.8L377.9 443.2L374.1 445.8L375.4 441.4L371.8 438.6L376.4 438.5zM380.2 434.8L381.7 439.2L386.3 439.2L382.7 442L384 446.4L380.2 443.8L376.5 446.4L377.8 442L374.2 439.2L378.7 439.2zM382.6 435.6L384.1 439.9L388.7 440L385.1 442.8L386.4 447.1L382.6 444.5L378.9 447.1L380.2 442.8L376.5 440L381.1 439.9zM385 433.8L386.5 438.1L391.1 438.2L387.4 441L388.8 445.3L385 442.7L381.2 445.3L382.6 441L378.9 438.2L383.5 438.1zM387.4 433.7L388.9 438L393.5 438.1L389.8 440.9L391.1 445.2L387.4 442.6L383.6 445.2L385 440.9L381.3 438.1L385.9 438zM389.8 432.9L391.3 437.2L395.9 437.3L392.2 440.1L393.5 444.4L389.8 441.8L386 444.4L387.3 440.1L383.7 437.3L388.3 437.2zM392.1 434.2L393.7 438.5L398.2 438.6L394.6 441.4L395.9 445.7L392.1 443.1L388.4 445.7L389.7 441.4L386.1 438.6L390.6 438.5zM394.5 432.9L396 437.3L400.6 437.4L397 440.1L398.3 444.5L394.5 441.9L390.8 444.5L392.1 440.1L388.4 437.4L393 437.3zM396.9 430.8L398.4 435.2L403 435.3L399.3 438L400.7 442.4L396.9 439.8L393.1 442.4L394.5 438L390.8 435.3L395.4 435.2zM399.3 430.2L400.8 434.6L405.4 434.7L401.7 437.4L403.1 441.8L399.3 439.2L395.5 441.8L396.9 437.4L393.2 434.7L397.8 434.6zM401.7 430.4L403.2 434.7L407.8 434.8L404.1 437.6L405.4 442L401.7 439.4L397.9 442L399.2 437.6L395.6 434.8L400.2 434.7zM404.1 430.1L405.6 434.5L410.1 434.6L406.5 437.3L407.8 441.7L404.1 439.1L400.3 441.7L401.6 437.3L398 434.6L402.5 434.5zM406.4 430L407.9 434.3L412.5 434.4L408.9 437.2L410.2 441.6L406.4 438.9L402.7 441.6L404 437.2L400.3 434.4L404.9 434.3zM408.8 428.1L410.3 432.4L414.9 432.5L411.2 435.3L412.6 439.7L408.8 437.1L405.1 439.7L406.4 435.3L402.7 432.5L407.3 432.4zM411.2 428.6L412.7 432.9L417.3 433L413.6 435.8L415 440.1L411.2 437.5L407.4 440.1L408.8 435.8L405.1 433L409.7 432.9zM413.6 430.9L415.1 435.2L419.7 435.3L416 438.1L417.3 442.4L413.6 439.8L409.8 442.4L411.1 438.1L407.5 435.3L412.1 435.2zM416 430.9L417.5 435.2L422 435.3L418.4 438.1L419.7 442.5L416 439.9L412.2 442.5L413.5 438.1L409.9 435.3L414.4 435.2zM418.3 431.7L419.8 436.1L424.4 436.2L420.8 438.9L422.1 443.3L418.3 440.7L414.6 443.3L415.9 438.9L412.2 436.2L416.8 436.1zM420.7 433L422.2 437.3L426.8 437.4L423.2 440.2L424.5 444.6L420.7 442L417 444.6L418.3 440.2L414.6 437.4L419.2 437.3zM423.1 436.1L424.6 440.4L429.2 440.5L425.5 443.3L426.9 447.7L423.1 445.1L419.3 447.7L420.7 443.3L417 440.5L421.6 440.4zM425.5 435.3L427 439.6L431.6 439.7L427.9 442.5L429.2 446.9L425.5 444.3L421.7 446.9L423 442.5L419.4 439.7L424 439.6zM427.9 436.8L429.4 441.1L433.9 441.2L430.3 444L431.6 448.3L427.9 445.7L424.1 448.3L425.4 444L421.8 441.2L426.4 441.1zM430.2 436.7L431.7 441.1L436.3 441.2L432.7 443.9L434 448.3L430.2 445.7L426.5 448.3L427.8 443.9L424.2 441.2L428.7 441.1zM432.6 436.4L434.1 440.8L438.7 440.9L435.1 443.6L436.4 448L432.6 445.4L428.9 448L430.2 443.6L426.5 440.9L431.1 440.8zM435 437.3L436.5 441.6L441.1 441.7L437.4 444.5L438.8 448.9L435 446.3L431.2 448.9L432.6 444.5L428.9 441.7L433.5 441.6zM437.4 437L438.9 441.3L443.5 441.4L439.8 444.2L441.1 448.6L437.4 445.9L433.6 448.6L434.9 444.2L431.3 441.4L435.9 441.3zM439.8 434.4L441.3 438.7L445.8 438.8L442.2 441.6L443.5 446L439.8 443.3L436 446L437.3 441.6L433.7 438.8L438.3 438.7zM442.1 433.6L443.6 437.9L448.2 438L444.6 440.8L445.9 445.2L442.1 442.5L438.4 445.2L439.7 440.8L436.1 438L440.6 437.9zM444.5 434.9L446 439.3L450.6 439.4L447 442.1L448.3 446.5L444.5 443.9L440.8 446.5L442.1 442.1L438.4 439.4L443 439.3zM446.9 434.1L448.4 438.4L453 438.5L449.3 441.3L450.7 445.7L446.9 443L443.1 445.7L444.5 441.3L440.8 438.5L445.4 438.4zM449.3 434.4L450.8 438.8L455.4 438.9L451.7 441.6L453 446L449.3 443.4L445.5 446L446.9 441.6L443.2 438.9L447.8 438.8zM451.7 438.1L453.2 442.4L457.8 442.5L454.1 445.3L455.4 449.7L451.7 447.1L447.9 449.7L449.2 445.3L445.6 442.5L450.2 442.4zM454 437.7L455.6 442L460.1 442.1L456.5 444.9L457.8 449.2L454 446.6L450.3 449.2L451.6 444.9L448 442.1L452.5 442zM456.4 439.5L457.9 443.8L462.5 443.9L458.9 446.7L460.2 451.1L456.4 448.5L452.7 451.1L454 446.7L450.3 443.9L454.9 443.8zM458.8 437.3L460.3 441.6L464.9 441.7L461.2 444.5L462.6 448.8L458.8 446.2L455 448.8L456.4 444.5L452.7 441.7L457.3 441.6zM461.2 437.7L462.7 442L467.3 442.1L463.6 444.9L465 449.3L461.2 446.7L457.4 449.3L458.8 444.9L455.1 442.1L459.7 442zM463.6 435.2L465.1 439.5L469.7 439.6L466 442.3L467.3 446.7L463.6 444.1L459.8 446.7L461.1 442.3L457.5 439.6L462.1 439.5zM466 432.8L467.5 437.2L472 437.3L468.4 440L469.7 444.4L466 441.8L462.2 444.4L463.5 440L459.9 437.3L464.4 437.2zM468.3 431.4L469.8 435.7L474.4 435.8L470.8 438.5L472.1 442.9L468.3 440.3L464.6 442.9L465.9 438.5L462.2 435.8L466.8 435.7zM470.7 432.3L472.2 436.6L476.8 436.7L473.1 439.4L474.5 443.8L470.7 441.2L467 443.8L468.3 439.4L464.6 436.7L469.2 436.6zM473.1 432L474.6 436.3L479.2 436.4L475.5 439.2L476.9 443.6L473.1 441L469.3 443.6L470.7 439.2L467 436.4L471.6 436.3zM475.5 432.5L477 436.8L481.6 436.9L477.9 439.7L479.2 444.1L475.5 441.5L471.7 444.1L473 439.7L469.4 436.9L474 436.8zM477.9 429.7L479.4 434.1L483.9 434.2L480.3 436.9L481.6 441.3L477.9 438.7L474.1 441.3L475.4 436.9L471.8 434.2L476.4 434.1zM480.2 431.2L481.7 435.5L486.3 435.6L482.7 438.4L484 442.7L480.2 440.1L476.5 442.7L477.8 438.4L474.1 435.6L478.7 435.5zM482.6 431.4L484.1 435.7L488.7 435.8L485.1 438.6L486.4 442.9L482.6 440.3L478.9 442.9L480.2 438.6L476.5 435.8L481.1 435.7zM485 432.7L486.5 437.1L491.1 437.1L487.4 439.9L488.8 444.3L485 441.7L481.2 444.3L482.6 439.9L478.9 437.1L483.5 437.1zM487.4 432.3L488.9 436.6L493.5 436.7L489.8 439.5L491.1 443.8L487.4 441.2L483.6 443.8L484.9 439.5L481.3 436.7L485.9 436.6zM489.8 433.3L491.3 437.6L495.8 437.7L492.2 440.5L493.5 444.9L489.8 442.3L486 444.9L487.3 440.5L483.7 437.7L488.3 437.6zM492.1 434.8L493.6 439.1L498.2 439.2L494.6 442L495.9 446.4L492.1 443.8L488.4 446.4L489.7 442L486.1 439.2L490.6 439.1zM494.5 436.8L496 441.2L500.6 441.2L497 444L498.3 448.4L494.5 445.8L490.8 448.4L492.1 444L488.4 441.2L493 441.2zM496.9 435.1L498.4 439.4L503 439.5L499.3 442.3L500.7 446.7L496.9 444L493.1 446.7L494.5 442.3L490.8 439.5L495.4 439.4zM499.3 436.9L500.8 441.2L505.4 441.3L501.7 444.1L503 448.5L499.3 445.9L495.5 448.5L496.8 444.1L493.2 441.3L497.8 441.2zM501.7 437.2L503.2 441.5L507.7 441.6L504.1 444.4L505.4 448.8L501.7 446.2L497.9 448.8L499.2 444.4L495.6 441.6L500.2 441.5zM504 436.9L505.5 441.3L510.1 441.3L506.5 444.1L507.8 448.5L504 445.9L500.3 448.5L501.6 444.1L498 441.3L502.5 441.3zM506.4 433.8L507.9 438.1L512.5 438.2L508.9 441L510.2 445.3L506.4 442.7L502.7 445.3L504 441L500.3 438.2L504.9 438.1zM508.8 432.6L510.3 437L514.9 437.1L511.2 439.8L512.6 444.2L508.8 441.6L505 444.2L506.4 439.8L502.7 437.1L507.3 437zM511.2 434.7L512.7 439.1L517.3 439.2L513.6 441.9L514.9 446.3L511.2 443.7L507.4 446.3L508.8 441.9L505.1 439.2L509.7 439.1zM513.6 435L515.1 439.4L519.7 439.4L516 442.2L517.3 446.6L513.6 444L509.8 446.6L511.1 442.2L507.5 439.4L512.1 439.4zM515.9 433.7L517.5 438L522 438.1L518.4 440.9L519.7 445.3L515.9 442.7L512.2 445.3L513.5 440.9L509.9 438.1L514.4 438zM518.3 432.6L519.8 436.9L524.4 437L520.8 439.8L522.1 444.1L518.3 441.5L514.6 444.1L515.9 439.8L512.2 437L516.8 436.9zM520.7 435.5L522.2 439.9L526.8 440L523.1 442.7L524.5 447.1L520.7 444.5L516.9 447.1L518.3 442.7L514.6 440L519.2 439.9zM523.1 434.7L524.6 439.1L529.2 439.1L525.5 441.9L526.9 446.3L523.1 443.7L519.3 446.3L520.7 441.9L517 439.1L521.6 439.1zM525.5 437L527 441.3L531.6 441.4L527.9 444.2L529.2 448.5L525.5 445.9L521.7 448.5L523 444.2L519.4 441.4L524 441.3zM527.9 436.4L529.4 440.7L533.9 440.8L530.3 443.5L531.6 447.9L527.9 445.3L524.1 447.9L525.4 443.5L521.8 440.8L526.3 440.7zM530.2 437.2L531.7 441.5L536.3 441.6L532.7 444.4L534 448.8L530.2 446.2L526.5 448.8L527.8 444.4L524.1 441.6L528.7 441.5zM532.6 435.6L534.1 439.9L538.7 440L535 442.8L536.4 447.2L532.6 444.5L528.9 447.2L530.2 442.8L526.5 440L531.1 439.9zM535 437.8L536.5 442.2L541.1 442.2L537.4 445L538.8 449.4L535 446.8L531.2 449.4L532.6 445L528.9 442.2L533.5 442.2zM537.4 436.7L538.9 441L543.5 441.1L539.8 443.9L541.1 448.3L537.4 445.7L533.6 448.3L534.9 443.9L531.3 441.1L535.9 441zM539.8 437.9L541.3 442.2L545.8 442.3L542.2 445.1L543.5 449.4L539.8 446.8L536 449.4L537.3 445.1L533.7 442.3L538.3 442.2zM542.1 439.7L543.6 444L548.2 444.1L544.6 446.9L545.9 451.3L542.1 448.6L538.4 451.3L539.7 446.9L536.1 444.1L540.6 444zM544.5 440.1L546 444.4L550.6 444.5L547 447.3L548.3 451.7L544.5 449.1L540.8 451.7L542.1 447.3L538.4 444.5L543 444.4zM546.9 438.8L548.4 443.2L553 443.3L549.3 446L550.7 450.4L546.9 447.8L543.1 450.4L544.5 446L540.8 443.3L545.4 443.2zM549.3 439.6L550.8 444L555.4 444.1L551.7 446.8L553 451.2L549.3 448.6L545.5 451.2L546.8 446.8L543.2 444.1L547.8 444zM551.7 441L553.2 445.3L557.7 445.4L554.1 448.2L555.4 452.5L551.7 449.9L547.9 452.5L549.2 448.2L545.6 445.4L550.2 445.3zM554 442.1L555.5 446.4L560.1 446.5L556.5 449.3L557.8 453.7L554 451.1L550.3 453.7L551.6 449.3L548 446.5L552.5 446.4zM556.4 441.7L557.9 446L562.5 446.1L558.9 448.9L560.2 453.3L556.4 450.6L552.7 453.3L554 448.9L550.3 446.1L554.9 446zM558.8 440.7L560.3 445L564.9 445.1L561.2 447.9L562.6 452.3L558.8 449.6L555 452.3L556.4 447.9L552.7 445.1L557.3 445zM561.2 440.9L562.7 445.2L567.3 445.3L563.6 448.1L564.9 452.5L561.2 449.8L557.4 452.5L558.7 448.1L555.1 445.3L559.7 445.2zM563.6 442.2L565.1 446.5L569.7 446.6L566 449.4L567.3 453.7L563.6 451.1L559.8 453.7L561.1 449.4L557.5 446.6L562.1 446.5zM565.9 442.8L567.4 447.1L572 447.2L568.4 449.9L569.7 454.3L565.9 451.7L562.2 454.3L563.5 449.9L559.9 447.2L564.4 447.1zM568.3 440.6L569.8 444.9L574.4 445L570.8 447.8L572.1 452.1L568.3 449.5L564.6 452.1L565.9 447.8L562.2 445L566.8 444.9zM570.7 442.5L572.2 446.9L576.8 447L573.1 449.7L574.5 454.1L570.7 451.5L566.9 454.1L568.3 449.7L564.6 447L569.2 446.9zM573.1 443.6L574.6 447.9L579.2 448L575.5 450.8L576.8 455.1L573.1 452.5L569.3 455.1L570.7 450.8L567 448L571.6 447.9zM575.5 441.4L577 445.7L581.6 445.8L577.9 448.6L579.2 453L575.5 450.3L571.7 453L573 448.6L569.4 445.8L574 445.7zM577.8 443.6L579.4 447.9L583.9 448L580.3 450.8L581.6 455.2L577.8 452.6L574.1 455.2L575.4 450.8L571.8 448L576.3 447.9zM580.2 441.3L581.7 445.6L586.3 445.7L582.7 448.4L584 452.8L580.2 450.2L576.5 452.8L577.8 448.4L574.1 445.7L578.7 445.6zM582.6 442.6L584.1 446.9L588.7 447L585 449.8L586.4 454.2L582.6 451.6L578.8 454.2L580.2 449.8L576.5 447L581.1 446.9zM585 442.4L586.5 446.7L591.1 446.8L587.4 449.6L588.8 453.9L585 451.3L581.2 453.9L582.6 449.6L578.9 446.8L583.5 446.7zM587.4 443L588.9 447.3L593.5 447.4L589.8 450.2L591.1 454.6L587.4 452L583.6 454.6L584.9 450.2L581.3 447.4L585.9 447.3zM589.8 442.5L591.3 446.8L595.8 446.9L592.2 449.7L593.5 454L589.8 451.4L586 454L587.3 449.7L583.7 446.9L588.2 446.8zM592.1 443.1L593.6 447.4L598.2 447.5L594.6 450.3L595.9 454.7L592.1 452.1L588.4 454.7L589.7 450.3L586 447.5L590.6 447.4zM594.5 443L596 447.4L600.6 447.5L596.9 450.2L598.3 454.6L594.5 452L590.8 454.6L592.1 450.2L588.4 447.5L593 447.4zM596.9 442L598.4 446.3L603 446.4L599.3 449.2L600.7 453.6L596.9 451L593.1 453.6L594.5 449.2L590.8 446.4L595.4 446.3zM599.3 442.2L600.8 446.6L605.4 446.7L601.7 449.4L603 453.8L599.3 451.2L595.5 453.8L596.8 449.4L593.2 446.7L597.8 446.6zM601.7 441.2L603.2 445.5L607.7 445.6L604.1 448.3L605.4 452.7L601.7 450.1L597.9 452.7L599.2 448.3L595.6 445.6L600.2 445.5zM604 441.8L605.5 446.1L610.1 446.2L606.5 448.9L607.8 453.3L604 450.7L600.3 453.3L601.6 448.9L598 446.2L602.5 446.1zM606.4 441.4L607.9 445.8L612.5 445.9L608.9 448.6L610.2 453L606.4 450.4L602.7 453L604 448.6L600.3 445.9L604.9 445.8zM608.8 444.2L610.3 448.5L614.9 448.6L611.2 451.3L612.6 455.7L608.8 453.1L605 455.7L606.4 451.3L602.7 448.6L607.3 448.5zM611.2 443.8L612.7 448.1L617.3 448.2L613.6 450.9L614.9 455.3L611.2 452.7L607.4 455.3L608.7 450.9L605.1 448.2L609.7 448.1zM613.6 442.5L615.1 446.8L619.6 446.9L616 449.7L617.3 454.1L613.6 451.5L609.8 454.1L611.1 449.7L607.5 446.9L612.1 446.8zM615.9 443.7L617.4 448.1L622 448.2L618.4 450.9L619.7 455.3L615.9 452.7L612.2 455.3L613.5 450.9L609.9 448.2L614.4 448.1zM618.3 443.5L619.8 447.8L624.4 447.9L620.8 450.7L622.1 455.1L618.3 452.4L614.6 455.1L615.9 450.7L612.2 447.9L616.8 447.8zM620.7 442.3L622.2 446.6L626.8 446.7L623.1 449.5L624.5 453.9L620.7 451.3L616.9 453.9L618.3 449.5L614.6 446.7L619.2 446.6zM623.1 441.2L624.6 445.6L629.2 445.7L625.5 448.4L626.8 452.8L623.1 450.2L619.3 452.8L620.6 448.4L617 445.7L621.6 445.6zM625.5 442L627 446.3L631.6 446.4L627.9 449.2L629.2 453.6L625.5 451L621.7 453.6L623 449.2L619.4 446.4L624 446.3zM627.8 440.8L629.4 445.1L633.9 445.2L630.3 448L631.6 452.4L627.8 449.7L624.1 452.4L625.4 448L621.8 445.2L626.3 445.1zM630.2 440.7L631.7 445L636.3 445.1L632.7 447.9L634 452.3L630.2 449.6L626.5 452.3L627.8 447.9L624.1 445.1L628.7 445zM632.6 441.4L634.1 445.7L638.7 445.8L635 448.6L636.4 453L632.6 450.4L628.8 453L630.2 448.6L626.5 445.8L631.1 445.7zM635 440.2L636.5 444.6L641.1 444.7L637.4 447.4L638.7 451.8L635 449.2L631.2 451.8L632.6 447.4L628.9 444.7L633.5 444.6zM637.4 441.1L638.9 445.5L643.5 445.6L639.8 448.3L641.1 452.7L637.4 450.1L633.6 452.7L634.9 448.3L631.3 445.6L635.9 445.5zM639.7 441L641.3 445.3L645.8 445.4L642.2 448.2L643.5 452.6L639.7 450L636 452.6L637.3 448.2L633.7 445.4L638.2 445.3zM642.1 438.6L643.6 442.9L648.2 443L644.6 445.8L645.9 450.2L642.1 447.6L638.4 450.2L639.7 445.8L636 443L640.6 442.9zM644.5 439.5L646 443.8L650.6 443.9L646.9 446.7L648.3 451L644.5 448.4L640.7 451L642.1 446.7L638.4 443.9L643 443.8zM646.9 437.1L648.4 441.4L653 441.5L649.3 444.3L650.7 448.6L646.9 446L643.1 448.6L644.5 444.3L640.8 441.5L645.4 441.4zM649.3 438.3L650.8 442.6L655.4 442.7L651.7 445.5L653 449.9L649.3 447.2L645.5 449.9L646.8 445.5L643.2 442.7L647.8 442.6zM651.7 438.3L653.2 442.7L657.7 442.8L654.1 445.5L655.4 449.9L651.7 447.3L647.9 449.9L649.2 445.5L645.6 442.8L650.1 442.7zM654 437.5L655.5 441.9L660.1 442L656.5 444.7L657.8 449.1L654 446.5L650.3 449.1L651.6 444.7L647.9 442L652.5 441.9zM656.4 436.2L657.9 440.5L662.5 440.6L658.8 443.4L660.2 447.8L656.4 445.1L652.7 447.8L654 443.4L650.3 440.6L654.9 440.5zM658.8 437.6L660.3 441.9L664.9 442L661.2 444.8L662.6 449.2L658.8 446.5L655 449.2L656.4 444.8L652.7 442L657.3 441.9zM661.2 437.5L662.7 441.8L667.3 441.9L663.6 444.7L664.9 449.1L661.2 446.5L657.4 449.1L658.7 444.7L655.1 441.9L659.7 441.8zM663.6 439.5L665.1 443.8L669.6 443.9L666 446.7L667.3 451.1L663.6 448.5L659.8 451.1L661.1 446.7L657.5 443.9L662.1 443.8zM665.9 437.4L667.4 441.7L672 441.8L668.4 444.6L669.7 449L665.9 446.4L662.2 449L663.5 444.6L659.9 441.8L664.4 441.7zM668.3 439.9L669.8 444.2L674.4 444.3L670.8 447.1L672.1 451.5L668.3 448.9L664.6 451.5L665.9 447.1L662.2 444.3L666.8 444.2zM670.7 440.4L672.2 444.7L676.8 444.8L673.1 447.6L674.5 452L670.7 449.4L666.9 452L668.3 447.6L664.6 444.8L669.2 444.7z"/>
</g>
<rect x="75.5" y="13.7" width="595.2" height="456.4" fill="none" stroke="#000" stroke-width="2.4"/>
<path fill="none" stroke="#000" stroke-width="2.2" d="M65.3 470.1H75.5M65.3 394H75.5M65.3 318H75.5M65.3 241.9H75.5M65.3 165.8H75.5M65.3 89.8H75.5M65.3 13.7H75.5M69.5 432.1H75.5M69.5 356H75.5M69.5 279.9H75.5M69.5 203.9H75.5M69.5 127.8H75.5M69.5 51.7H75.5M75.5 470.1V479.8M194.5 470.1V479.8M313.6 470.1V479.8M432.6 470.1V479.8M551.7 470.1V479.8M670.7 470.1V479.8M135 470.1V475.4M254.1 470.1V475.4M373.1 470.1V475.4M492.1 470.1V475.4M611.2 470.1V475.4"/>
<text class="tk" x="58.3" y="474" text-anchor="end">0</text>
<text class="tk" x="58.3" y="397.9" text-anchor="end">20</text>
<text class="tk" x="58.3" y="321.9" text-anchor="end">40</text>
<text class="tk" x="58.3" y="245.8" text-anchor="end">60</text>
<text class="tk" x="58.3" y="169.7" text-anchor="end">80</text>
<text class="tk" x="58.3" y="93.7" text-anchor="end">100</text>
<text class="tk" x="58.3" y="17.6" text-anchor="end">120</text>
<text class="tk" x="75.5" y="504.8" text-anchor="middle">350</text>
<text class="tk" x="194.5" y="504.8" text-anchor="middle">400</text>
<text class="tk" x="313.6" y="504.8" text-anchor="middle">450</text>
<text class="tk" x="432.6" y="504.8" text-anchor="middle">500</text>
<text class="tk" x="551.7" y="504.8" text-anchor="middle">550</text>
<text class="tk" x="670.7" y="504.8" text-anchor="middle">600</text>
<text class="ti" x="369.5" y="534.9" text-anchor="middle">Wavelength (nm)</text>
<text class="ti" transform="translate(18.6 251) rotate(-90)" text-anchor="middle">PL Intensity (a.u)</text>
<text class="pk" transform="translate(106 35) rotate(-90) scale(1 1.12)" text-anchor="middle">360</text>
<text class="pk" transform="translate(149.3 152.7) rotate(-90) scale(1 1.12)" text-anchor="middle">376</text>
<text class="pk" transform="translate(326 365.6) rotate(-90) scale(1 1.12)" text-anchor="middle">459</text>
<text class="pk" transform="translate(385.2 344.3) rotate(-90) scale(1 1.12)" text-anchor="middle">494</text>
<text class="pk" transform="translate(416.3 319.3) rotate(-90) scale(1 1.12)" text-anchor="middle">505</text>
<text class="pk" transform="translate(447.6 314.5) rotate(-90) scale(1 1.12)" text-anchor="middle">519</text>
<text class="pks" transform="translate(492 276.9) rotate(-90) scale(1 1.12)" text-anchor="middle">535</text>
<path fill="#ff0000" d="M530.1 72.7h12.2v12.2h-12.2z"/>
<path fill="#0000ff" d="M536.2 99.6l8.1 13.8h-16.2z"/>
<path fill="#800080" d="M536.2 129.6l8.6 8.3l-8.6 8.3l-8.6 -8.3z"/>
<path fill="#ff0080" d="M536.2 159.6L538.1 164.9L543.7 165L539.2 168.4L540.8 173.8L536.2 170.6L531.6 173.8L533.2 168.4L528.7 165L534.3 164.9z"/>
<text class="lg" x="574" y="87.4" fill="#ff0000">M300</text>
<text class="lg" x="574" y="116.1" fill="#0000ff">M350</text>
<text class="lg" x="574" y="145.9" fill="#800080">M400</text>
<text class="lg" x="574" y="175" fill="#ff0080">M450</text>
</svg>
</body></html>
